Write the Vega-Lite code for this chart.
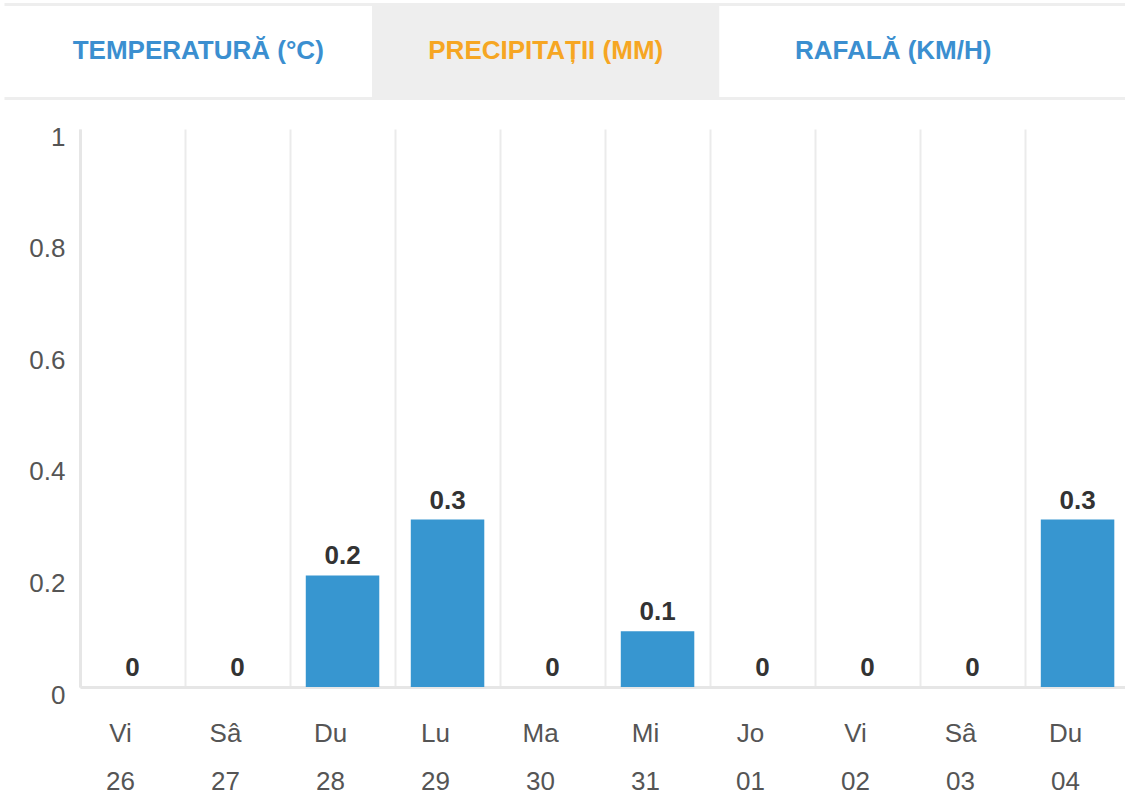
{
  "$schema": "https://vega.github.io/schema/vega-lite/v6.json",
  "padding": {"left": 4, "top": 4, "right": 0, "bottom": 0},
  "background": "white",
  "spacing": 26,
  "config": {"font": "Liberation Sans", "view": {"stroke": null}},
  "vconcat": [
    {
      "width": 1045,
      "height": 94,
      "data": {"values": [
        {"tab": "TEMPERATURĂ (°C)", "active": 0},
        {"tab": "PRECIPITAȚII (MM)", "active": 1},
        {"tab": "RAFALĂ (KM/H)", "active": 0}
      ]},
      "encoding": {
        "y": {"datum": "tabs", "type": "nominal", "scale": {"paddingInner": 0, "paddingOuter": 0}, "axis": null}
      },
      "layer": [
        {
          "mark": {"type": "rect"},
          "encoding": {
            "x": {"field": "tab", "type": "nominal", "sort": null,
              "scale": {"range": [-76, 1045], "paddingInner": 0, "paddingOuter": 0.113, "align": 0.261},
              "axis": {"orient": "top", "title": null, "labels": false, "ticks": false, "grid": false,
                "domain": true, "domainColor": "#eeeeee", "domainWidth": 3, "zindex": 1}},
            "fill": {"condition": {"test": "datum.active == 1", "value": "#eeeeee"}, "value": "#ffffff"}
          }
        },
        {
          "mark": {"type": "text", "fontSize": 26, "fontWeight": "bold", "baseline": "middle"},
          "encoding": {
            "x": {"field": "tab", "type": "nominal", "sort": null,
              "axis": {"orient": "bottom", "title": null, "labels": false, "ticks": false, "grid": false,
                "domain": true, "domainColor": "#eeeeee", "domainWidth": 3, "zindex": 1}},
            "text": {"field": "tab"},
            "color": {"condition": {"test": "datum.active == 1", "value": "#f6a623"}, "value": "#3b8fd0"}
          }
        }
      ],
      "resolve": {"axis": {"x": "independent"}}
    },
    {
      "width": 1045,
      "height": 558,
      "data": {"values": [
        {"day": "Vi|26", "value": 0},
        {"day": "Sâ|27", "value": 0},
        {"day": "Du|28", "value": 0.2},
        {"day": "Lu|29", "value": 0.3},
        {"day": "Ma|30", "value": 0},
        {"day": "Mi|31", "value": 0.1},
        {"day": "Jo|01", "value": 0},
        {"day": "Vi|02", "value": 0},
        {"day": "Sâ|03", "value": 0},
        {"day": "Du|04", "value": 0.3}
      ]},
      "encoding": {
        "x": {"field": "day", "type": "nominal", "sort": null,
          "scale": {"paddingInner": 0.3, "paddingOuter": 0.126, "align": 0.596},
          "axis": {"title": null, "labelExpr": "datum.value ? split(datum.value, '|') : ''", "labelAngle": 0,
            "labelFontSize": 26, "labelColor": "#555555", "labelLineHeight": 48, "labelPadding": 33,
            "bandPosition": -0.2143, "labelOffset": -12, "ticks": false, "grid": true,
            "gridColor": "#ebebeb", "gridWidth": 2, "domain": true, "domainColor": "#e6e6e6", "domainWidth": 3}}
      },
      "layer": [
        {
          "mark": {"type": "bar", "color": "#3796d0"},
          "encoding": {
            "y": {"field": "value", "type": "quantitative", "scale": {"domain": [0, 1]},
              "axis": {"title": null, "values": [0, 0.2, 0.4, 0.6, 0.8, 1], "format": "~g", "grid": false,
                "ticks": false, "domain": true, "domainColor": "#e6e6e6", "domainWidth": 3,
                "labelFontSize": 26, "labelColor": "#555555", "labelPadding": 15, "labelOffset": 8,
                "minExtent": 76}}
          }
        },
        {
          "mark": {"type": "text", "fontSize": 26, "fontWeight": "bold", "color": "#333333",
            "baseline": "alphabetic", "dy": -11},
          "encoding": {
            "y": {"field": "value", "type": "quantitative"},
            "text": {"field": "value", "type": "quantitative", "format": "~g"}
          }
        }
      ]
    }
  ]
}
